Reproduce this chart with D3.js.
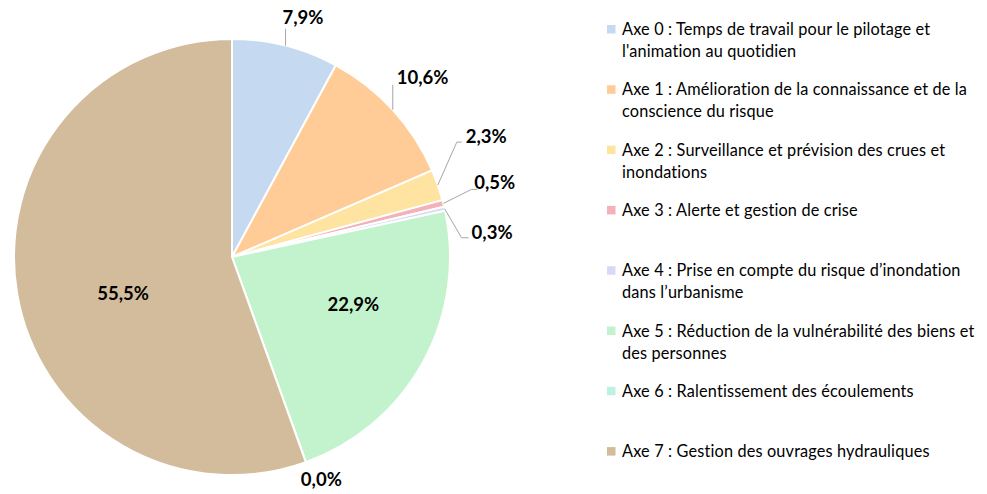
<!DOCTYPE html>
<html>
<head>
<meta charset="utf-8">
<script src="https://cdn.jsdelivr.net/npm/d3@7"></script>
<style>
  html, body { margin: 0; padding: 0; background: #ffffff; }
  svg { display: block; }
  text { font-family: Lato, "Open Sans", sans-serif; fill: #000; }
</style>
</head>
<body>
<svg id="chart" width="987" height="494"></svg>
<script>
// Répartition par axe (%)
const categories = ["Axe 0", "Axe 1", "Axe 2", "Axe 3", "Axe 4", "Axe 5", "Axe 6", "Axe 7"];
const values = [7.9, 10.6, 2.3, 0.5, 0.3, 22.9, 0.0, 55.5];
const valueLabels = ["7,9%", "10,6%", "2,3%", "0,5%", "0,3%", "22,9%", "0,0%", "55,5%"];
const legendLines = [
  ["Axe 0 : Temps de travail pour le pilotage et", "l'animation au quotidien"],
  ["Axe 1 : Amélioration de la connaissance et de la", "conscience du risque"],
  ["Axe 2 : Surveillance et prévision des crues et", "inondations"],
  ["Axe 3 : Alerte et gestion de crise"],
  ["Axe 4 : Prise en compte du risque d\u2019inondation", "dans l\u2019urbanisme"],
  ["Axe 5 : Réduction de la vulnérabilité des biens et", "des personnes"],
  ["Axe 6 : Ralentissement des écoulements"],
  ["Axe 7 : Gestion des ouvrages hydrauliques"]
];
const colors = ["#C5D9F1", "#FFCB96", "#FFE3A1", "#F4B1B8", "#D9D9F7", "#C3F3CC", "#BDF2E3", "#D3BC9C"];

// Placement des étiquettes : "in" = dans la part, "out" = à l'extérieur avec ligne de rappel
// (offsets en px relatifs au point de l'arc au milieu de la part)
const labelLayout = [
  { mode: "out", elbow: [0, -17], tail: 0, text: [-3, -22] },
  { mode: "out", elbow: [0, -25], tail: 0, text: [4, -26] },
  { mode: "out", elbow: [19, -43], tail: 5, text: [28, -42] },
  { mode: "out", elbow: [28, -14], tail: 6, text: [31, -14] },
  { mode: "out", elbow: [17, 29], tail: 7, text: [27, 30] },
  { mode: "in", offset: [7, -16] },
  { mode: "text", text: [-5, 24] },
  { mode: "in", offset: [20, 14] }
];

const svg = d3.select("#chart");
const cx = 232, cy = 257, radius = 218;

const pie = d3.pie().sort(null).value(d => d)(values);
const arc = d3.arc().innerRadius(0).outerRadius(radius);
const g = svg.append("g").attr("transform", `translate(${cx},${cy})`);

g.selectAll("path.slice")
  .data(pie)
  .join("path")
  .attr("class", "slice")
  .attr("d", arc)
  .attr("fill", (d, i) => colors[i])
  .attr("stroke", "#ffffff")
  .attr("stroke-width", 2)
  .attr("stroke-linejoin", "round");

const midAngle = d => (d.startAngle + d.endAngle) / 2;
const onArc = (d, r) => [r * Math.sin(midAngle(d)), -r * Math.cos(midAngle(d))];

pie.forEach((d, i) => {
  const L = labelLayout[i];
  const labelText = valueLabels[i];
  if (L.mode === "in") {
    const [x, y] = onArc(d, radius * 0.6);
    g.append("text")
      .attr("x", x + L.offset[0])
      .attr("y", y + L.offset[1])
      .attr("text-anchor", "middle")
      .attr("dominant-baseline", "central")
      .attr("font-size", 18.5)
      .attr("font-weight", 700)
      .text(labelText);
  } else {
    const [ax, ay] = onArc(d, radius);
    if (L.mode === "out") {
      const ex = ax + L.elbow[0], ey = ay + L.elbow[1];
      g.append("polyline")
        .attr("points", [[ax, ay], [ex, ey], [ex + L.tail, ey]].map(p => p.join(",")).join(" "))
        .attr("fill", "none")
        .attr("stroke", "#A6A6A6")
        .attr("stroke-width", 1);
    }
    g.append("text")
      .attr("x", ax + L.text[0])
      .attr("y", ay + L.text[1])
      .attr("text-anchor", "start")
      .attr("font-size", 18.5)
      .attr("font-weight", 700)
      .text(labelText);
  }
});

// Légende
const legendX = 607, legendTop = 35, itemStep = 60.3, lineStep = 22;
const legend = svg.append("g");
categories.forEach((c, i) => {
  const base = legendTop + i * itemStep;
  const item = legend.append("g").attr("class", "legend-item");
  item.append("rect")
    .attr("x", legendX)
    .attr("y", base - 10)
    .attr("width", 8.5)
    .attr("height", 8.5)
    .attr("fill", colors[i]);
  legendLines[i].forEach((line, j) => {
    item.append("text")
      .attr("x", legendX + 15)
      .attr("y", base + j * lineStep)
      .attr("font-size", 16.3)
      .attr("letter-spacing", 0.15)
      .text(line);
  });
});
</script>
</body>
</html>
